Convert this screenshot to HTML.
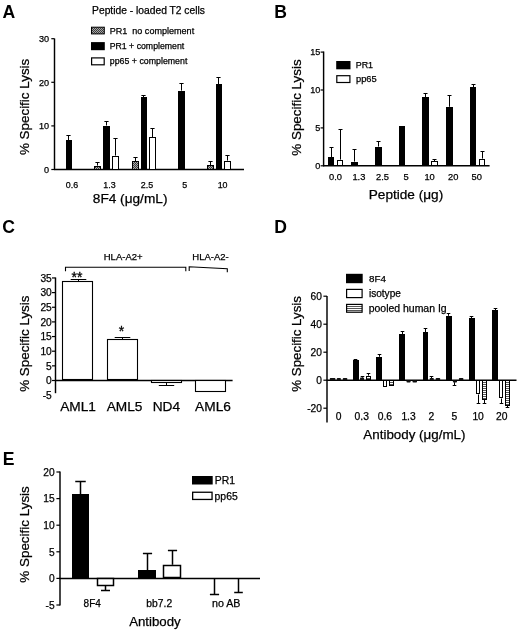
<!DOCTYPE html>
<html lang="en"><head><meta charset="utf-8"><title>Figure</title>
<style>html,body{margin:0;padding:0;background:#fff}svg{display:block;filter:blur(0.35px)}</style></head>
<body>
<svg width="520" height="631" viewBox="0 0 520 631" font-family="'Liberation Sans', Arial, Helvetica, sans-serif">
<defs>
<pattern id="dots" width="2" height="2" patternUnits="userSpaceOnUse"><rect width="2" height="2" fill="#a8a8a8"/><rect width="1" height="1" fill="#3a3a3a"/><rect x="1" y="1" width="1" height="1" fill="#3a3a3a"/></pattern>
<pattern id="hl" width="2" height="2" patternUnits="userSpaceOnUse"><rect width="2" height="2" fill="#fff"/><rect width="2" height="1" fill="#555"/></pattern>
</defs>
<rect width="520" height="631" fill="#fff"/>
<text x="2.46" y="17.60" font-size="17.60" font-weight="bold">A</text>
<text x="92.08" y="14.18" font-size="10.27" stroke="#000" stroke-width="0.25">Peptide - loaded T2 cells</text>
<line x1="54.50" y1="38.50" x2="54.50" y2="170.00" stroke="#000" stroke-width="1.45"/>
<line x1="54.00" y1="169.50" x2="244.00" y2="169.50" stroke="#000" stroke-width="1.45"/>
<line x1="51.30" y1="169.50" x2="54.50" y2="169.50" stroke="#000" stroke-width="1.2"/>
<text x="44.11" y="172.76" font-size="9.10" stroke="#000" stroke-width="0.25">0</text>
<line x1="51.30" y1="125.90" x2="54.50" y2="125.90" stroke="#000" stroke-width="1.2"/>
<text x="39.06" y="129.16" font-size="9.10" stroke="#000" stroke-width="0.25">10</text>
<line x1="51.30" y1="82.30" x2="54.50" y2="82.30" stroke="#000" stroke-width="1.2"/>
<text x="39.06" y="85.56" font-size="9.10" stroke="#000" stroke-width="0.25">20</text>
<line x1="51.30" y1="38.70" x2="54.50" y2="38.70" stroke="#000" stroke-width="1.2"/>
<text x="39.06" y="41.96" font-size="9.10" stroke="#000" stroke-width="0.25">30</text>
<text transform="translate(29.30,155.07) rotate(-90)" font-size="13.41" stroke="#000" stroke-width="0.25">% Specific Lysis</text>
<text x="92.79" y="203.29" font-size="13.66" stroke="#000" stroke-width="0.25">8F4 (μg/mL)</text>
<rect x="91.50" y="27.20" width="12.80" height="6.70" fill="url(#dots)" stroke="#000" stroke-width="1.0"/>
<rect x="91.00" y="42.10" width="13.80" height="8.10" fill="#000"/>
<rect x="91.60" y="57.90" width="12.60" height="6.90" fill="#fff" stroke="#000" stroke-width="1.2"/>
<text x="109.68" y="33.64" font-size="9.06" stroke="#000" stroke-width="0.25">PR1  no complement</text>
<text x="109.70" y="49.13" font-size="8.74" stroke="#000" stroke-width="0.25">PR1 + complement</text>
<text x="109.83" y="64.35" font-size="8.81" stroke="#000" stroke-width="0.25">pp65 + complement</text>
<text x="65.84" y="188.19" font-size="8.90" stroke="#000" stroke-width="0.25">0.6</text>
<text x="103.28" y="188.19" font-size="8.90" stroke="#000" stroke-width="0.25">1.3</text>
<text x="140.77" y="188.19" font-size="8.90" stroke="#000" stroke-width="0.25">2.5</text>
<text x="182.33" y="188.19" font-size="8.90" stroke="#000" stroke-width="0.25">5</text>
<text x="217.70" y="188.19" font-size="8.90" stroke="#000" stroke-width="0.25">10</text>
<line x1="68.50" y1="140.00" x2="68.50" y2="135.50" stroke="#000" stroke-width="1.0"/>
<line x1="66.40" y1="135.50" x2="70.60" y2="135.50" stroke="#000" stroke-width="1.0"/>
<rect x="66" y="140" width="6" height="30" fill="#000"/>
<line x1="97.50" y1="165.60" x2="97.50" y2="162.50" stroke="#000" stroke-width="1.0"/>
<line x1="95.40" y1="162.50" x2="99.60" y2="162.50" stroke="#000" stroke-width="1.0"/>
<rect x="94.5" y="166.5" width="6" height="3" fill="url(#dots)" stroke="#000" stroke-width="1.0"/>
<line x1="106.50" y1="125.50" x2="106.50" y2="121.50" stroke="#000" stroke-width="1.0"/>
<line x1="104.40" y1="121.50" x2="108.60" y2="121.50" stroke="#000" stroke-width="1.0"/>
<rect x="103" y="126" width="7" height="44" fill="#000"/>
<line x1="115.50" y1="155.60" x2="115.50" y2="138.50" stroke="#000" stroke-width="1.0"/>
<line x1="113.40" y1="138.50" x2="117.60" y2="138.50" stroke="#000" stroke-width="1.0"/>
<rect x="112.5" y="156.5" width="6" height="13" fill="#fff" stroke="#000" stroke-width="1.0"/>
<line x1="135.50" y1="161.30" x2="135.50" y2="157.50" stroke="#000" stroke-width="1.0"/>
<line x1="133.40" y1="157.50" x2="137.60" y2="157.50" stroke="#000" stroke-width="1.0"/>
<rect x="132.5" y="161.5" width="6" height="8" fill="url(#dots)" stroke="#000" stroke-width="1.0"/>
<line x1="143.50" y1="97.40" x2="143.50" y2="95.50" stroke="#000" stroke-width="1.0"/>
<line x1="141.40" y1="95.50" x2="145.60" y2="95.50" stroke="#000" stroke-width="1.0"/>
<rect x="141" y="97" width="6" height="73" fill="#000"/>
<line x1="152.50" y1="137.00" x2="152.50" y2="128.50" stroke="#000" stroke-width="1.0"/>
<line x1="150.40" y1="128.50" x2="154.60" y2="128.50" stroke="#000" stroke-width="1.0"/>
<rect x="149.5" y="137.5" width="6" height="32" fill="#fff" stroke="#000" stroke-width="1.0"/>
<line x1="181.50" y1="90.60" x2="181.50" y2="83.50" stroke="#000" stroke-width="1.0"/>
<line x1="179.40" y1="83.50" x2="183.60" y2="83.50" stroke="#000" stroke-width="1.0"/>
<rect x="178" y="91" width="7" height="79" fill="#000"/>
<line x1="210.50" y1="165.40" x2="210.50" y2="161.50" stroke="#000" stroke-width="1.0"/>
<line x1="208.40" y1="161.50" x2="212.60" y2="161.50" stroke="#000" stroke-width="1.0"/>
<rect x="207.5" y="165.5" width="6" height="4" fill="url(#dots)" stroke="#000" stroke-width="1.0"/>
<line x1="218.50" y1="84.40" x2="218.50" y2="77.50" stroke="#000" stroke-width="1.0"/>
<line x1="216.40" y1="77.50" x2="220.60" y2="77.50" stroke="#000" stroke-width="1.0"/>
<rect x="216" y="84" width="6" height="86" fill="#000"/>
<line x1="227.50" y1="160.60" x2="227.50" y2="155.50" stroke="#000" stroke-width="1.0"/>
<line x1="225.40" y1="155.50" x2="229.60" y2="155.50" stroke="#000" stroke-width="1.0"/>
<rect x="224.5" y="161.5" width="6" height="8" fill="#fff" stroke="#000" stroke-width="1.0"/>
<text x="274.24" y="17.90" font-size="17.60" font-weight="bold">B</text>
<line x1="323.60" y1="51.50" x2="323.60" y2="166.30" stroke="#000" stroke-width="1.45"/>
<line x1="323.10" y1="165.80" x2="489.60" y2="165.80" stroke="#000" stroke-width="1.45"/>
<line x1="320.60" y1="165.80" x2="323.60" y2="165.80" stroke="#000" stroke-width="1.2"/>
<text x="315.31" y="169.06" font-size="9.10" stroke="#000" stroke-width="0.25">0</text>
<line x1="320.60" y1="127.90" x2="323.60" y2="127.90" stroke="#000" stroke-width="1.2"/>
<text x="315.31" y="131.16" font-size="9.10" stroke="#000" stroke-width="0.25">5</text>
<line x1="320.60" y1="90.00" x2="323.60" y2="90.00" stroke="#000" stroke-width="1.2"/>
<text x="310.26" y="93.26" font-size="9.10" stroke="#000" stroke-width="0.25">10</text>
<line x1="320.60" y1="52.10" x2="323.60" y2="52.10" stroke="#000" stroke-width="1.2"/>
<text x="310.26" y="55.36" font-size="9.10" stroke="#000" stroke-width="0.25">15</text>
<text transform="translate(300.70,155.67) rotate(-90)" font-size="13.40" stroke="#000" stroke-width="0.25">% Specific Lysis</text>
<text x="368.76" y="199.17" font-size="13.62" stroke="#000" stroke-width="0.25">Peptide (μg)</text>
<rect x="336.20" y="61.00" width="14.30" height="8.30" fill="#000"/>
<rect x="336.80" y="75.70" width="13.10" height="6.80" fill="#fff" stroke="#000" stroke-width="1.2"/>
<text x="355.69" y="68.40" font-size="8.93" stroke="#000" stroke-width="0.25">PR1</text>
<text x="356.04" y="82.43" font-size="9.30" stroke="#000" stroke-width="0.25">pp65</text>
<text x="329.04" y="180.03" font-size="9.30" stroke="#000" stroke-width="0.25">0.0</text>
<text x="352.40" y="180.03" font-size="9.30" stroke="#000" stroke-width="0.25">1.3</text>
<text x="375.99" y="180.03" font-size="9.30" stroke="#000" stroke-width="0.25">2.5</text>
<text x="403.42" y="180.03" font-size="9.30" stroke="#000" stroke-width="0.25">5</text>
<text x="424.38" y="180.03" font-size="9.30" stroke="#000" stroke-width="0.25">10</text>
<text x="447.99" y="180.03" font-size="9.30" stroke="#000" stroke-width="0.25">20</text>
<text x="471.54" y="180.03" font-size="9.30" stroke="#000" stroke-width="0.25">50</text>
<line x1="331.50" y1="157.00" x2="331.50" y2="147.50" stroke="#000" stroke-width="1.0"/>
<line x1="329.50" y1="147.50" x2="333.50" y2="147.50" stroke="#000" stroke-width="1.0"/>
<rect x="328" y="157" width="6" height="9" fill="#000"/>
<line x1="340.50" y1="159.60" x2="340.50" y2="129.50" stroke="#000" stroke-width="1.0"/>
<line x1="338.50" y1="129.50" x2="342.50" y2="129.50" stroke="#000" stroke-width="1.0"/>
<rect x="337.5" y="160.5" width="5" height="5" fill="#fff" stroke="#000" stroke-width="1.0"/>
<line x1="354.50" y1="161.60" x2="354.50" y2="149.50" stroke="#000" stroke-width="1.0"/>
<line x1="352.50" y1="149.50" x2="356.50" y2="149.50" stroke="#000" stroke-width="1.0"/>
<rect x="351" y="162" width="7" height="4" fill="#000"/>
<line x1="378.50" y1="146.60" x2="378.50" y2="141.50" stroke="#000" stroke-width="1.0"/>
<line x1="376.50" y1="141.50" x2="380.50" y2="141.50" stroke="#000" stroke-width="1.0"/>
<rect x="375" y="147" width="7" height="19" fill="#000"/>
<rect x="399" y="126" width="6" height="40" fill="#000"/>
<line x1="425.50" y1="97.00" x2="425.50" y2="93.50" stroke="#000" stroke-width="1.0"/>
<line x1="423.50" y1="93.50" x2="427.50" y2="93.50" stroke="#000" stroke-width="1.0"/>
<rect x="422" y="97" width="7" height="69" fill="#000"/>
<line x1="434.50" y1="161.30" x2="434.50" y2="159.50" stroke="#000" stroke-width="1.0"/>
<line x1="432.50" y1="159.50" x2="436.50" y2="159.50" stroke="#000" stroke-width="1.0"/>
<rect x="431.5" y="161.5" width="6" height="4" fill="#fff" stroke="#000" stroke-width="1.0"/>
<line x1="449.50" y1="106.80" x2="449.50" y2="95.50" stroke="#000" stroke-width="1.0"/>
<line x1="447.50" y1="95.50" x2="451.50" y2="95.50" stroke="#000" stroke-width="1.0"/>
<rect x="446" y="107" width="7" height="59" fill="#000"/>
<line x1="473.50" y1="87.00" x2="473.50" y2="84.50" stroke="#000" stroke-width="1.0"/>
<line x1="471.50" y1="84.50" x2="475.50" y2="84.50" stroke="#000" stroke-width="1.0"/>
<rect x="470" y="87" width="6" height="79" fill="#000"/>
<line x1="482.50" y1="158.60" x2="482.50" y2="151.50" stroke="#000" stroke-width="1.0"/>
<line x1="480.50" y1="151.50" x2="484.50" y2="151.50" stroke="#000" stroke-width="1.0"/>
<rect x="479.5" y="159.5" width="5" height="6" fill="#fff" stroke="#000" stroke-width="1.0"/>
<text x="2.23" y="232.70" font-size="17.60" font-weight="bold">C</text>
<line x1="55.50" y1="277.50" x2="55.50" y2="393.20" stroke="#000" stroke-width="1.45"/>
<line x1="55.00" y1="380.50" x2="232.60" y2="380.50" stroke="#000" stroke-width="1.45"/>
<text x="42.63" y="399.20" font-size="10.20" stroke="#000" stroke-width="0.25">-5</text>
<line x1="52.00" y1="380.50" x2="55.50" y2="380.50" stroke="#000" stroke-width="1.2"/>
<text x="46.05" y="384.15" font-size="10.20" stroke="#000" stroke-width="0.25">0</text>
<line x1="52.00" y1="365.85" x2="55.50" y2="365.85" stroke="#000" stroke-width="1.2"/>
<text x="46.05" y="369.50" font-size="10.20" stroke="#000" stroke-width="0.25">5</text>
<line x1="52.00" y1="351.20" x2="55.50" y2="351.20" stroke="#000" stroke-width="1.2"/>
<text x="40.39" y="354.85" font-size="10.20" stroke="#000" stroke-width="0.25">10</text>
<line x1="52.00" y1="336.55" x2="55.50" y2="336.55" stroke="#000" stroke-width="1.2"/>
<text x="40.39" y="340.20" font-size="10.20" stroke="#000" stroke-width="0.25">15</text>
<line x1="52.00" y1="321.90" x2="55.50" y2="321.90" stroke="#000" stroke-width="1.2"/>
<text x="40.39" y="325.55" font-size="10.20" stroke="#000" stroke-width="0.25">20</text>
<line x1="52.00" y1="307.25" x2="55.50" y2="307.25" stroke="#000" stroke-width="1.2"/>
<text x="40.39" y="310.90" font-size="10.20" stroke="#000" stroke-width="0.25">25</text>
<line x1="52.00" y1="292.60" x2="55.50" y2="292.60" stroke="#000" stroke-width="1.2"/>
<text x="40.39" y="296.25" font-size="10.20" stroke="#000" stroke-width="0.25">30</text>
<line x1="52.00" y1="277.95" x2="55.50" y2="277.95" stroke="#000" stroke-width="1.2"/>
<text x="40.39" y="281.60" font-size="10.20" stroke="#000" stroke-width="0.25">35</text>
<text transform="translate(28.80,391.87) rotate(-90)" font-size="13.41" stroke="#000" stroke-width="0.25">% Specific Lysis</text>
<text x="60.13" y="411.20" font-size="13.70" stroke="#000" stroke-width="0.25">AML1</text>
<text x="106.66" y="411.20" font-size="13.70" stroke="#000" stroke-width="0.25">AML5</text>
<text x="152.71" y="411.20" font-size="13.70" stroke="#000" stroke-width="0.25">ND4</text>
<text x="195.10" y="411.20" font-size="13.70" stroke="#000" stroke-width="0.25">AML6</text>
<text x="103.75" y="259.90" font-size="9.50" stroke="#000" stroke-width="0.25">HLA-A2+</text>
<text x="192.32" y="259.90" font-size="9.50" stroke="#000" stroke-width="0.25">HLA-A2-</text>
<path d="M65.5 271.2V267.2H185.8V271.2" fill="none" stroke="#000" stroke-width="1.1"/>
<path d="M189.2 271V266.8L227.3 268.7V272.2" fill="none" stroke="#000" stroke-width="1.1"/>
<text x="71.54" y="282.41" font-size="14.00" stroke="#000" stroke-width="0.3">**</text>
<text x="118.77" y="336.11" font-size="14.00" stroke="#000" stroke-width="0.3">*</text>
<line x1="78.50" y1="281.50" x2="78.50" y2="279.50" stroke="#000" stroke-width="1.0"/>
<line x1="70.70" y1="279.50" x2="86.30" y2="279.50" stroke="#000" stroke-width="1.0"/>
<rect x="62.5" y="281.5" width="30" height="98" fill="#fff" stroke="#000" stroke-width="1.1"/>
<line x1="122.50" y1="340.00" x2="122.50" y2="337.50" stroke="#000" stroke-width="1.0"/>
<line x1="114.70" y1="337.50" x2="130.30" y2="337.50" stroke="#000" stroke-width="1.0"/>
<rect x="107.5" y="339.5" width="30" height="40" fill="#fff" stroke="#000" stroke-width="1.1"/>
<line x1="166.50" y1="383.00" x2="166.50" y2="385.50" stroke="#000" stroke-width="1.0"/>
<line x1="158.80" y1="385.50" x2="174.20" y2="385.50" stroke="#000" stroke-width="1.0"/>
<rect x="151.5" y="380.5" width="30" height="2" fill="#fff" stroke="#000" stroke-width="1.1"/>
<rect x="195.5" y="380.5" width="30" height="11" fill="#fff" stroke="#000" stroke-width="1.1"/>
<text x="274.19" y="232.90" font-size="17.60" font-weight="bold">D</text>
<line x1="327.00" y1="296.00" x2="327.00" y2="422.50" stroke="#000" stroke-width="1.45"/>
<line x1="326.50" y1="380.20" x2="516.50" y2="380.20" stroke="#000" stroke-width="1.45"/>
<line x1="323.40" y1="408.20" x2="327.00" y2="408.20" stroke="#000" stroke-width="1.2"/>
<text x="307.17" y="412.05" font-size="10.20" stroke="#000" stroke-width="0.25">-20</text>
<line x1="323.40" y1="380.20" x2="327.00" y2="380.20" stroke="#000" stroke-width="1.2"/>
<text x="316.25" y="384.05" font-size="10.20" stroke="#000" stroke-width="0.25">0</text>
<line x1="323.40" y1="352.20" x2="327.00" y2="352.20" stroke="#000" stroke-width="1.2"/>
<text x="310.59" y="356.05" font-size="10.20" stroke="#000" stroke-width="0.25">20</text>
<line x1="323.40" y1="324.20" x2="327.00" y2="324.20" stroke="#000" stroke-width="1.2"/>
<text x="310.59" y="328.05" font-size="10.20" stroke="#000" stroke-width="0.25">40</text>
<line x1="323.40" y1="296.20" x2="327.00" y2="296.20" stroke="#000" stroke-width="1.2"/>
<text x="310.59" y="300.05" font-size="10.20" stroke="#000" stroke-width="0.25">60</text>
<text transform="translate(300.67,391.67) rotate(-90)" font-size="13.31" stroke="#000" stroke-width="0.25">% Specific Lysis</text>
<text x="363.33" y="438.59" font-size="13.38" stroke="#000" stroke-width="0.25">Antibody (μg/mL)</text>
<rect x="346.00" y="273.80" width="16.70" height="9.40" fill="#000"/>
<rect x="346.60" y="289.40" width="15.50" height="8.20" fill="#fff" stroke="#000" stroke-width="1.2"/>
<rect x="346.60" y="304.40" width="15.50" height="7.80" fill="url(#hl)" stroke="#000" stroke-width="1.2"/>
<text x="368.96" y="282.03" font-size="9.85" stroke="#000" stroke-width="0.25">8F4</text>
<text x="368.92" y="297.12" font-size="10.10" stroke="#000" stroke-width="0.25">isotype</text>
<text x="368.72" y="312.25" font-size="10.46" stroke="#000" stroke-width="0.25">pooled human Ig</text>
<text x="335.64" y="419.79" font-size="10.30" stroke="#000" stroke-width="0.25">0</text>
<text x="354.57" y="419.79" font-size="10.30" stroke="#000" stroke-width="0.25">0.3</text>
<text x="377.67" y="419.79" font-size="10.30" stroke="#000" stroke-width="0.25">0.6</text>
<text x="401.39" y="419.79" font-size="10.30" stroke="#000" stroke-width="0.25">1.3</text>
<text x="428.44" y="419.79" font-size="10.30" stroke="#000" stroke-width="0.25">2</text>
<text x="451.44" y="419.79" font-size="10.30" stroke="#000" stroke-width="0.25">5</text>
<text x="472.40" y="419.79" font-size="10.30" stroke="#000" stroke-width="0.25">10</text>
<text x="495.93" y="419.79" font-size="10.30" stroke="#000" stroke-width="0.25">20</text>
<line x1="332.50" y1="378.80" x2="332.50" y2="378.50" stroke="#000" stroke-width="1.0"/>
<line x1="330.70" y1="378.50" x2="334.30" y2="378.50" stroke="#000" stroke-width="1.0"/>
<rect x="329.8" y="377.9" width="5.6" height="2.3" fill="#111" rx="0.8"/>
<rect x="336.8" y="377.9" width="4.1" height="2.3" fill="#111" rx="0.8"/>
<rect x="342.8" y="377.9" width="4.5" height="2.3" fill="#111" rx="0.8"/>
<line x1="355.50" y1="360.20" x2="355.50" y2="359.50" stroke="#000" stroke-width="1.0"/>
<line x1="353.70" y1="359.50" x2="357.30" y2="359.50" stroke="#000" stroke-width="1.0"/>
<rect x="353" y="360" width="6" height="20" fill="#000"/>
<line x1="362.50" y1="377.60" x2="362.50" y2="376.50" stroke="#000" stroke-width="1.0"/>
<line x1="360.70" y1="376.50" x2="364.30" y2="376.50" stroke="#000" stroke-width="1.0"/>
<rect x="360.0" y="377.6" width="4.1" height="2.6" fill="#111" rx="0.8"/>
<line x1="368.50" y1="375.60" x2="368.50" y2="373.50" stroke="#000" stroke-width="1.0"/>
<line x1="366.70" y1="373.50" x2="370.30" y2="373.50" stroke="#000" stroke-width="1.0"/>
<rect x="366.5" y="376.5" width="4" height="3" fill="url(#hl)" stroke="#000" stroke-width="1.0"/>
<line x1="379.50" y1="356.80" x2="379.50" y2="354.50" stroke="#000" stroke-width="1.0"/>
<line x1="377.70" y1="354.50" x2="381.30" y2="354.50" stroke="#000" stroke-width="1.0"/>
<rect x="376" y="357" width="6" height="23" fill="#000"/>
<rect x="383.5" y="380.5" width="3" height="6" fill="#fff" stroke="#000" stroke-width="1.0"/>
<rect x="389.5" y="380.5" width="4" height="5" fill="url(#hl)" stroke="#000" stroke-width="1.0"/>
<line x1="402.50" y1="334.00" x2="402.50" y2="331.50" stroke="#000" stroke-width="1.0"/>
<line x1="400.70" y1="331.50" x2="404.30" y2="331.50" stroke="#000" stroke-width="1.0"/>
<rect x="399" y="334" width="6" height="46" fill="#000"/>
<rect x="406.5" y="380.2" width="4.1" height="2.3" fill="#111" rx="0.8"/>
<rect x="412.5" y="380.2" width="4.5" height="2.3" fill="#111" rx="0.8"/>
<line x1="425.50" y1="332.40" x2="425.50" y2="328.50" stroke="#000" stroke-width="1.0"/>
<line x1="423.70" y1="328.50" x2="427.30" y2="328.50" stroke="#000" stroke-width="1.0"/>
<rect x="423" y="332" width="5" height="48" fill="#000"/>
<line x1="431.50" y1="378.40" x2="431.50" y2="376.50" stroke="#000" stroke-width="1.0"/>
<line x1="429.70" y1="376.50" x2="433.30" y2="376.50" stroke="#000" stroke-width="1.0"/>
<rect x="429.7" y="377.9" width="4.1" height="2.3" fill="#111" rx="0.8"/>
<rect x="435.7" y="377.9" width="4.5" height="2.3" fill="#111" rx="0.8"/>
<line x1="448.50" y1="315.80" x2="448.50" y2="313.50" stroke="#000" stroke-width="1.0"/>
<line x1="446.70" y1="313.50" x2="450.30" y2="313.50" stroke="#000" stroke-width="1.0"/>
<rect x="446" y="316" width="6" height="64" fill="#000"/>
<line x1="454.50" y1="382.20" x2="454.50" y2="385.50" stroke="#000" stroke-width="1.0"/>
<line x1="452.70" y1="385.50" x2="456.30" y2="385.50" stroke="#000" stroke-width="1.0"/>
<rect x="452.9" y="380.2" width="4.1" height="2.3" fill="#111" rx="0.8"/>
<rect x="458.9" y="377.9" width="4.5" height="2.3" fill="#111" rx="0.8"/>
<line x1="471.50" y1="318.50" x2="471.50" y2="316.50" stroke="#000" stroke-width="1.0"/>
<line x1="469.70" y1="316.50" x2="473.30" y2="316.50" stroke="#000" stroke-width="1.0"/>
<rect x="469" y="318" width="6" height="62" fill="#000"/>
<line x1="478.50" y1="394.50" x2="478.50" y2="403.50" stroke="#000" stroke-width="1.0"/>
<line x1="476.70" y1="403.50" x2="480.30" y2="403.50" stroke="#000" stroke-width="1.0"/>
<rect x="476.5" y="380.5" width="3" height="13" fill="#fff" stroke="#000" stroke-width="1.0"/>
<line x1="484.50" y1="400.00" x2="484.50" y2="403.50" stroke="#000" stroke-width="1.0"/>
<line x1="482.70" y1="403.50" x2="486.30" y2="403.50" stroke="#000" stroke-width="1.0"/>
<rect x="482.5" y="380.5" width="4" height="19" fill="url(#hl)" stroke="#000" stroke-width="1.0"/>
<line x1="495.50" y1="310.50" x2="495.50" y2="308.50" stroke="#000" stroke-width="1.0"/>
<line x1="493.70" y1="308.50" x2="497.30" y2="308.50" stroke="#000" stroke-width="1.0"/>
<rect x="492" y="310" width="6" height="70" fill="#000"/>
<line x1="501.50" y1="398.50" x2="501.50" y2="403.50" stroke="#000" stroke-width="1.0"/>
<line x1="499.70" y1="403.50" x2="503.30" y2="403.50" stroke="#000" stroke-width="1.0"/>
<rect x="499.5" y="380.5" width="3" height="17" fill="#fff" stroke="#000" stroke-width="1.0"/>
<line x1="507.50" y1="405.60" x2="507.50" y2="407.50" stroke="#000" stroke-width="1.0"/>
<line x1="505.70" y1="407.50" x2="509.30" y2="407.50" stroke="#000" stroke-width="1.0"/>
<rect x="505.5" y="380.5" width="4" height="25" fill="url(#hl)" stroke="#000" stroke-width="1.0"/>
<text x="2.78" y="464.70" font-size="17.60" font-weight="bold">E</text>
<line x1="60.00" y1="471.50" x2="60.00" y2="605.50" stroke="#000" stroke-width="1.45"/>
<line x1="59.50" y1="578.40" x2="260.00" y2="578.40" stroke="#000" stroke-width="1.45"/>
<line x1="56.40" y1="605.00" x2="60.00" y2="605.00" stroke="#000" stroke-width="1.2"/>
<text x="45.53" y="608.85" font-size="10.20" stroke="#000" stroke-width="0.25">-5</text>
<line x1="56.40" y1="578.40" x2="60.00" y2="578.40" stroke="#000" stroke-width="1.2"/>
<text x="48.95" y="582.25" font-size="10.20" stroke="#000" stroke-width="0.25">0</text>
<line x1="56.40" y1="551.80" x2="60.00" y2="551.80" stroke="#000" stroke-width="1.2"/>
<text x="48.95" y="555.65" font-size="10.20" stroke="#000" stroke-width="0.25">5</text>
<line x1="56.40" y1="525.20" x2="60.00" y2="525.20" stroke="#000" stroke-width="1.2"/>
<text x="43.29" y="529.05" font-size="10.20" stroke="#000" stroke-width="0.25">10</text>
<line x1="56.40" y1="498.60" x2="60.00" y2="498.60" stroke="#000" stroke-width="1.2"/>
<text x="43.29" y="502.45" font-size="10.20" stroke="#000" stroke-width="0.25">15</text>
<line x1="56.40" y1="472.00" x2="60.00" y2="472.00" stroke="#000" stroke-width="1.2"/>
<text x="43.29" y="475.85" font-size="10.20" stroke="#000" stroke-width="0.25">20</text>
<text transform="translate(28.81,582.67) rotate(-90)" font-size="13.43" stroke="#000" stroke-width="0.25">% Specific Lysis</text>
<text x="129.13" y="626.34" font-size="13.25" stroke="#000" stroke-width="0.25">Antibody</text>
<text x="83.62" y="606.58" font-size="10.00" stroke="#000" stroke-width="0.25">8F4</text>
<text x="146.35" y="606.99" font-size="10.30" stroke="#000" stroke-width="0.25">bb7.2</text>
<text x="211.96" y="606.83" font-size="10.70" stroke="#000" stroke-width="0.25">no AB</text>
<rect x="192.00" y="476.00" width="20.70" height="8.50" fill="#000"/>
<rect x="192.65" y="492.25" width="19.40" height="7.20" fill="#fff" stroke="#000" stroke-width="1.3"/>
<text x="214.73" y="483.62" font-size="10.40" stroke="#000" stroke-width="0.25">PR1</text>
<text x="214.60" y="499.52" font-size="10.40" stroke="#000" stroke-width="0.25">pp65</text>
<line x1="80.50" y1="494.30" x2="80.50" y2="481.50" stroke="#000" stroke-width="1.5"/>
<line x1="75.25" y1="481.50" x2="85.75" y2="481.50" stroke="#000" stroke-width="1.5"/>
<rect x="72" y="494" width="17" height="84" fill="#000"/>
<line x1="105.50" y1="585.30" x2="105.50" y2="590.50" stroke="#000" stroke-width="1.5"/>
<line x1="101.00" y1="590.50" x2="110.00" y2="590.50" stroke="#000" stroke-width="1.5"/>
<rect x="97.5" y="578.5" width="16" height="7" fill="#fff" stroke="#000" stroke-width="1.5"/>
<line x1="147.50" y1="570.50" x2="147.50" y2="553.50" stroke="#000" stroke-width="1.5"/>
<line x1="142.90" y1="553.50" x2="152.10" y2="553.50" stroke="#000" stroke-width="1.5"/>
<rect x="138" y="570" width="18" height="8" fill="#000"/>
<line x1="172.50" y1="564.80" x2="172.50" y2="550.50" stroke="#000" stroke-width="1.5"/>
<line x1="167.90" y1="550.50" x2="177.10" y2="550.50" stroke="#000" stroke-width="1.5"/>
<rect x="163.5" y="565.5" width="17" height="12" fill="#fff" stroke="#000" stroke-width="1.5"/>
<line x1="214.50" y1="578.40" x2="214.50" y2="594.50" stroke="#000" stroke-width="1.5"/>
<line x1="209.90" y1="594.50" x2="219.10" y2="594.50" stroke="#000" stroke-width="1.5"/>
<line x1="238.50" y1="578.40" x2="238.50" y2="592.50" stroke="#000" stroke-width="1.5"/>
<line x1="234.20" y1="592.50" x2="242.80" y2="592.50" stroke="#000" stroke-width="1.5"/>
</svg>
</body></html>
